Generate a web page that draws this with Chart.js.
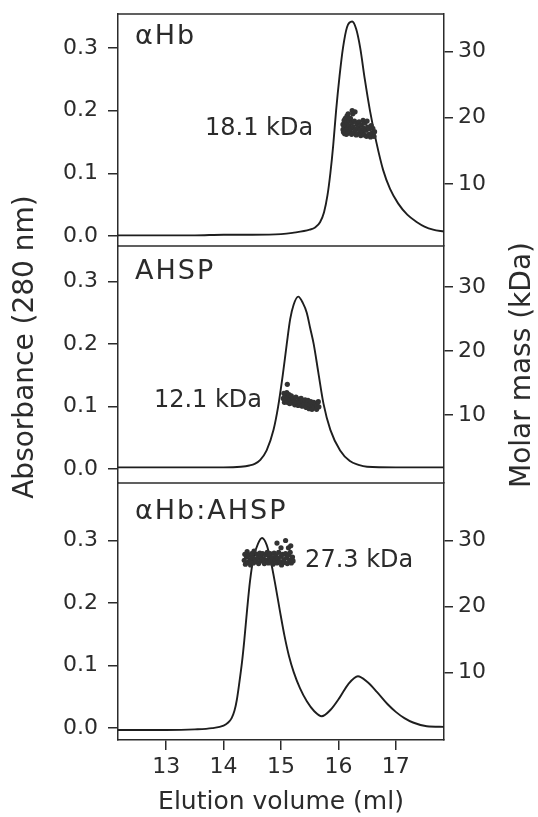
<!DOCTYPE html>
<html>
<head>
<meta charset="utf-8">
<script src="https://cdn.jsdelivr.net/npm/chart.js@4.4.1/dist/chart.umd.min.js"></script>
<style>
  html, body { margin: 0; padding: 0; background: #fff; }
  #wrap { position: relative; width: 538px; height: 817px; }
</style>
</head>
<body>
<div id="wrap"><canvas id="sec"></canvas></div>
<script>
// elution traces (ml vs A280), one per panel
const volHb = [12.16, 13.0, 13.5, 14.0, 14.5, 15.0, 15.2, 15.5, 15.6, 15.68, 15.75, 15.81, 15.86, 15.91, 15.96, 16.02, 16.08, 16.15, 16.24, 16.31, 16.38, 16.46, 16.55, 16.66, 16.78, 16.9, 17.04, 17.2, 17.37, 17.5, 17.65, 17.84];
const absHb = [0.001, 0.001, 0.001, 0.002, 0.002, 0.003, 0.005, 0.01, 0.014, 0.022, 0.038, 0.065, 0.10, 0.145, 0.20, 0.255, 0.30, 0.333, 0.342, 0.33, 0.30, 0.25, 0.20, 0.15, 0.105, 0.075, 0.052, 0.034, 0.022, 0.015, 0.01, 0.007];

const volAhsp = [12.16, 13.0, 14.0, 14.3, 14.45, 14.55, 14.64, 14.75, 14.87, 14.95, 15.03, 15.10, 15.16, 15.22, 15.30, 15.38, 15.45, 15.51, 15.57, 15.65, 15.74, 15.86, 16.03, 16.2, 16.35, 16.5, 17.0, 17.84];
const absAhsp = [0.003, 0.003, 0.003, 0.004, 0.006, 0.009, 0.015, 0.03, 0.063, 0.10, 0.15, 0.20, 0.24, 0.263, 0.276, 0.266, 0.25, 0.225, 0.20, 0.155, 0.105, 0.063, 0.03, 0.013, 0.007, 0.004, 0.003, 0.003];

const volCplx = [12.16, 13.0, 13.5, 13.8, 14.0, 14.08, 14.14, 14.19, 14.23, 14.27, 14.32, 14.36, 14.41, 14.46, 14.52, 14.6, 14.67, 14.75, 14.82, 14.9, 14.98, 15.06, 15.14, 15.22, 15.33, 15.45, 15.58, 15.71, 15.86, 16.03, 16.17, 16.34, 16.5, 16.67, 16.85, 17.0, 17.15, 17.3, 17.54, 17.84];
const absCplx = [-0.003, -0.003, -0.002, 0.0, 0.004, 0.009, 0.016, 0.028, 0.045, 0.07, 0.105, 0.14, 0.19, 0.235, 0.272, 0.295, 0.304, 0.293, 0.268, 0.23, 0.188, 0.148, 0.115, 0.09, 0.064, 0.043, 0.027, 0.019, 0.029, 0.05, 0.07, 0.083, 0.074, 0.058, 0.039, 0.026, 0.016, 0.009, 0.003, 0.002];

// MALS molar mass points (ml, kDa)
const massVolHb = [16.08, 16.08, 16.09, 16.10, 16.10, 16.11, 16.12, 16.12, 16.13, 16.14, 16.15, 16.15, 16.16, 16.17, 16.17, 16.18, 16.19, 16.20, 16.21, 16.22, 16.23, 16.24, 16.24, 16.25, 16.26, 16.27, 16.28, 16.29, 16.30, 16.31, 16.32, 16.34, 16.35, 16.36, 16.38, 16.39, 16.40, 16.42, 16.43, 16.44, 16.45, 16.46, 16.48, 16.49, 16.50, 16.51, 16.53, 16.54, 16.56, 16.57, 16.59, 16.60, 16.62, 16.63];
const massHb = [18.2, 19.0, 17.8, 19.6, 18.6, 17.6, 19.9, 18.9, 18.1, 17.5, 20.3, 19.3, 18.5, 20.6, 17.7, 19.6, 18.8, 17.9, 19.9, 18.4, 17.5, 21.1, 19.3, 20.6, 18.6, 17.8, 19.5, 20.9, 18.2, 17.4, 19.1, 18.5, 17.6, 19.4, 18.2, 17.3, 18.9, 17.9, 19.6, 18.4, 17.4, 19.2, 18.1, 17.2, 19.5, 18.6, 17.5, 18.3, 17.1, 18.8, 17.7, 18.4, 17.2, 17.9];

const massVolAhsp = [15.11, 15.04, 15.05, 15.06, 15.07, 15.08, 15.10, 15.11, 15.12, 15.14, 15.15, 15.16, 15.18, 15.19, 15.21, 15.23, 15.24, 15.26, 15.28, 15.30, 15.31, 15.33, 15.35, 15.37, 15.38, 15.40, 15.42, 15.44, 15.45, 15.47, 15.49, 15.50, 15.52, 15.54, 15.55, 15.57, 15.58, 15.60, 15.62, 15.63, 15.65, 15.66];
const massAhsp = [14.8, 12.6, 13.4, 12.0, 13.0, 12.4, 13.5, 12.0, 12.8, 13.2, 11.8, 12.5, 13.0, 11.9, 12.6, 12.2, 11.6, 12.8, 12.0, 11.5, 12.5, 11.9, 12.6, 11.4, 12.2, 11.7, 12.4, 11.2, 11.9, 12.3, 11.0, 11.6, 12.1, 10.9, 11.5, 12.0, 11.2, 11.8, 10.9, 11.5, 12.1, 11.3];

const massVolCplx = [14.36, 14.37, 14.38, 14.40, 14.41, 14.43, 14.44, 14.46, 14.47, 14.49, 14.50, 14.52, 14.53, 14.55, 14.57, 14.58, 14.60, 14.61, 14.63, 14.65, 14.66, 14.68, 14.70, 14.71, 14.73, 14.75, 14.76, 14.78, 14.80, 14.81, 14.83, 14.85, 14.86, 14.88, 14.90, 14.91, 14.93, 14.95, 14.96, 14.98, 15.00, 15.01, 15.03, 15.05, 15.06, 15.08, 15.10, 15.11, 15.13, 15.15, 15.16, 15.18, 15.20, 15.21, 14.93, 15.00, 15.08, 15.13, 15.17];
const massCplx = [27.0, 27.9, 26.4, 27.5, 28.3, 26.7, 27.8, 27.1, 26.3, 28.0, 27.4, 26.6, 28.4, 27.2, 26.8, 27.9, 27.3, 26.5, 28.1, 27.6, 26.9, 28.0, 27.2, 26.5, 27.8, 27.0, 28.2, 26.6, 27.5, 28.0, 26.9, 27.4, 26.4, 28.1, 27.0, 27.7, 26.6, 27.3, 28.2, 26.8, 27.6, 26.3, 27.9, 27.1, 26.7, 28.0, 27.4, 26.5, 27.8, 27.0, 28.2, 26.6, 27.5, 26.9, 29.6, 28.9, 30.0, 28.9, 29.2];

const volTicks = [13, 14, 15, 16, 17];
const absTicks = [0, 0.1, 0.2, 0.3];
const massTicks = [10, 20, 30];
const panelNames = ['αHb', 'AHSP', 'αHb:AHSP'];
const massNotes = ['18.1 kDa', '12.1 kDa', '27.3 kDa'];

const ink = '#2b2b2b';
const tickFont = {family: 'DejaVu Sans', size: 22};

const pts = (xs, ys) => xs.map((x, i) => ({x: x, y: ys[i]}));

// no extra room for end labels, the frame sizes are fixed
const fitY = w => s => { s.width = w; s.paddingTop = 0; s.paddingBottom = 0; };

function absAxis(min, max, weight) {
  return {
    type: 'linear', position: 'left', stack: 'abs', stackWeight: weight,
    min: min, max: max,
    afterBuildTicks: s => { s.ticks = absTicks.map(v => ({value: v})); },
    afterFit: fitY(118),
    grid: {drawOnChartArea: false, tickLength: 10, color: ink, lineWidth: 1.5},
    border: {color: ink, width: 1.5},
    ticks: {color: ink, padding: 10, font: tickFont, callback: v => v.toFixed(1)}
  };
}
function massAxis(min, max, weight) {
  return {
    type: 'linear', position: 'right', stack: 'mass', stackWeight: weight,
    min: min, max: max,
    afterBuildTicks: s => { s.ticks = massTicks.map(v => ({value: v})); },
    afterFit: fitY(94),
    grid: {drawOnChartArea: false, tickLength: 9, color: ink, lineWidth: 1.5},
    border: {color: ink, width: 1.5},
    ticks: {color: ink, padding: 5, font: tickFont}
  };
}

const trace = (xs, ys, axis) => ({
  type: 'line', data: pts(xs, ys), yAxisID: axis, order: 2,
  borderColor: '#1e1e1e', borderWidth: 1.9, pointRadius: 0,
  cubicInterpolationMode: 'monotone', fill: false
});
const dots = (xs, ys, axis) => ({
  type: 'scatter', data: pts(xs, ys), yAxisID: axis, order: 1,
  backgroundColor: '#333', borderWidth: 0, pointRadius: 2.6
});

// frame lines between panels + panel names, mass notes, y titles
const panelText = {
  id: 'panelText',
  afterDatasetsDraw(chart) {
    const {ctx, chartArea, scales} = chart;
    const x = scales.x;
    ctx.save();
    ctx.strokeStyle = ink;
    ctx.lineWidth = 1.5;
    ['a1', 'a2', 'a3'].forEach(id => {
      ctx.beginPath();
      ctx.moveTo(chartArea.left, scales[id].top);
      ctx.lineTo(chartArea.right, scales[id].top);
      ctx.stroke();
    });

    ctx.fillStyle = ink;
    ctx.textBaseline = 'middle';
    ctx.textAlign = 'left';
    ctx.font = '27px "DejaVu Sans"';
    ctx.letterSpacing = '2px';
    const nameOff = [23, 26, 29];
    ['a1', 'a2', 'a3'].forEach((id, i) => {
      ctx.fillText(panelNames[i], chartArea.left + 17, scales[id].top + nameOff[i]);
    });
    ctx.letterSpacing = '0px';

    ctx.font = '24px "DejaVu Sans"';
    const spots = [[15.56, 18.3, 'm1', 'right'], [14.67, 12.3, 'm2', 'right'], [15.42, 26.9, 'm3', 'left']];
    spots.forEach((s, i) => {
      ctx.textAlign = s[3];
      ctx.fillText(massNotes[i], x.getPixelForValue(s[0]), scales[s[2]].getPixelForValue(s[1]));
    });

    ctx.font = '28px "DejaVu Sans"';
    ctx.textAlign = 'center';
    ctx.translate(26, 347);
    ctx.rotate(-Math.PI / 2);
    ctx.fillText('Absorbance (280 nm)', 0, 0);
    ctx.rotate(Math.PI / 2);
    ctx.translate(523 - 26, 365 - 347);
    ctx.rotate(-Math.PI / 2);
    ctx.fillText('Molar mass (kDa)', 0, 0);
    ctx.restore();
  }
};

new Chart(document.getElementById('sec'), {
  data: {
    datasets: [
      dots(massVolHb, massHb, 'm1'),
      dots(massVolAhsp, massAhsp, 'm2'),
      dots(massVolCplx, massCplx, 'm3'),
      trace(volHb, absHb, 'a1'),
      trace(volAhsp, absAhsp, 'a2'),
      trace(volCplx, absCplx, 'a3')
    ]
  },
  options: {
    responsive: true,
    maintainAspectRatio: false,
    animation: false,
    layout: {padding: {top: 14, left: 0, right: 0, bottom: 0}},
    plugins: {legend: {display: false}, tooltip: {enabled: false}},
    scales: {
      x: {
        type: 'linear', position: 'bottom', min: 12.16, max: 17.84,
        afterBuildTicks: s => { s.ticks = volTicks.map(v => ({value: v})); },
        afterFit: s => { s.height = 77; s.paddingLeft = 0; s.paddingRight = 0; },
        grid: {drawOnChartArea: false, tickLength: 10, color: ink, lineWidth: 1.5},
        border: {color: ink, width: 1.5},
        ticks: {color: ink, padding: 4, font: tickFont},
        title: {display: true, text: 'Elution volume (ml)', color: ink,
                font: {family: 'DejaVu Sans', size: 25}, padding: {top: 0, bottom: 0}}
      },
      // left stack is laid out last-defined-first, so the bottom panel comes first here
      a3: absAxis(-0.019, 0.392, 257),
      a2: absAxis(-0.022, 0.357, 237),
      a1: absAxis(-0.016, 0.354, 232),
      m1: massAxis(0.6, 35.7, 232),
      m2: massAxis(-0.6, 36.4, 237),
      m3: massAxis(-0.2, 38.7, 257)
    }
  },
  plugins: [panelText]
});
</script>
</body>
</html>
